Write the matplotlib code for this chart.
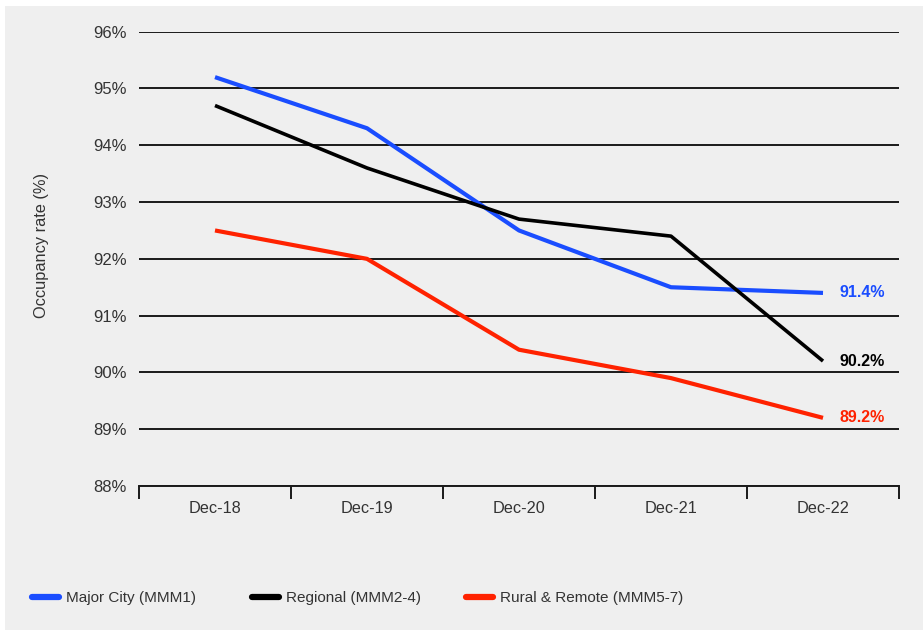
import matplotlib
matplotlib.use("Agg")
import matplotlib.pyplot as plt
from matplotlib.patches import Rectangle

# Occupancy rate by remoteness (%)
periods = ["Dec-18", "Dec-19", "Dec-20", "Dec-21", "Dec-22"]
major_city = [95.2, 94.3, 92.5, 91.5, 91.4]
regional = [94.7, 93.6, 92.7, 92.4, 90.2]
rural_remote = [92.5, 92.0, 90.4, 89.9, 89.2]

series_names = ["Major City (MMM1)", "Regional (MMM2-4)", "Rural & Remote (MMM5-7)"]
series_values = [major_city, regional, rural_remote]
series_colors = ["#1a4dff", "#000000", "#ff2200"]
series_widths = [3.0, 2.6, 3.0]

y_ticks = [88, 89, 90, 91, 92, 93, 94, 95, 96]

plt.rcParams["font.family"] = ["Liberation Sans", "DejaVu Sans"]
text_color = "#333333"
bg = "#efefef"

fig = plt.figure(figsize=(9.23, 6.30), dpi=100, facecolor="white")
fig.patches.append(Rectangle((5 / 923, 0), 1, 1 - 6 / 630, transform=fig.transFigure,
                             facecolor=bg, edgecolor="none", zorder=-10))

ax = fig.add_axes([139 / 923, 1 - 486 / 630, (899 - 139) / 923, (486 - 31.7) / 630])
ax.set_facecolor(bg)
ax.patch.set_alpha(0)

x = list(range(len(periods)))
for name, vals, col, lw in zip(series_names, series_values, series_colors, series_widths):
    ax.plot(x, vals, color=col, lw=lw, solid_capstyle="butt", solid_joinstyle="round",
            zorder=3, label=name)
    ax.annotate(f"{vals[-1]:.1f}%", xy=(x[-1], vals[-1]), xytext=(12, 0),
                textcoords="offset points", ha="left", va="center",
                color=col, fontsize=11.5, fontweight="bold", zorder=4)

ax.set_xlim(-0.5, len(periods) - 0.5)
ax.set_ylim(88, 96)

# horizontal gridlines
for yv in y_ticks:
    ax.axhline(yv, color="#1a1a1a", lw=1.4, zorder=1)

ax.set_yticks(y_ticks)
ax.set_yticklabels([f"{v}%" for v in y_ticks])
ax.tick_params(axis="y", length=0, pad=9, labelsize=12, labelcolor=text_color)

# category boundaries as major ticks, labels on minor ticks
ax.set_xticks([i - 0.5 for i in range(len(periods) + 1)])
ax.set_xticklabels([])
ax.set_xticks(x, minor=True)
ax.set_xticklabels(periods, minor=True)
ax.tick_params(axis="x", which="major", length=9, width=1.4, color="#1a1a1a", direction="out")
ax.tick_params(axis="x", which="minor", length=0, pad=10.5, labelsize=11.7, labelcolor=text_color)

for s in ["top", "right", "left"]:
    ax.spines[s].set_visible(False)
ax.spines["bottom"].set_color("#1a1a1a")
ax.spines["bottom"].set_linewidth(1.4)

fig.text(42 / 923, 1 - 246 / 630, "Occupancy rate (%)", rotation=90, ha="center", va="center",
         fontsize=11.8, color=text_color)

# legend entries placed along the bottom
handles = ax.get_lines()
legend_x = [32, 252, 466]
for h, lx in zip(handles, legend_x):
    leg = fig.legend([h], [h.get_label()], loc="center left",
                     bbox_to_anchor=(lx / 923, 1 - 598 / 630), frameon=False,
                     fontsize=11, handlelength=1.75, handletextpad=0.5,
                     borderpad=0, borderaxespad=0, labelcolor=text_color)
    for lh in leg.get_lines():
        lh.set_linewidth(4.5)
        lh.set_solid_capstyle("round")

fig.savefig("out.png", dpi=100, facecolor=fig.get_facecolor())
